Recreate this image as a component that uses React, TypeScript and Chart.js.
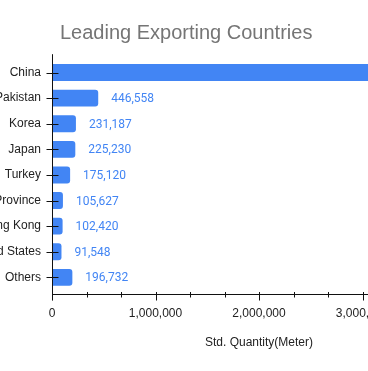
import React, { useEffect, useRef } from "react";
import { Chart, registerables } from "chart.js";

Chart.register(...registerables);

const categories = [
  "China",
  "Pakistan",
  "Korea",
  "Japan",
  "Turkey",
  "Taiwan Province",
  "Hong Kong",
  "United States",
  "Others",
];
const quantities = [3450000, 446558, 231187, 225230, 175120, 105627, 102420, 91548, 196732];
const axisMax = 4000000;
const axisStep = 1000000 / 3;
const chartTitle = "Leading Exporting Countries";
const xAxisTitle = "Std. Quantity(Meter)";

const BLUE = "#4285f4";
const fmt = (v: number) => Math.round(v).toLocaleString("en-US");
const isMajor = (v: number) => Math.abs(v / 1e6 - Math.round(v / 1e6)) < 1e-6;

const axesPlugin = {
  id: "customAxes",
  afterDatasetsDraw(chart: any) {
    const { ctx, chartArea, scales } = chart;
    const x = scales.x;
    const y = scales.y;
    ctx.save();
    ctx.strokeStyle = "#111";
    ctx.lineWidth = 1;
    const lx = Math.round(chartArea.left) + 0.5;
    const axY = Math.round(chartArea.bottom + 4) + 0.5;
    ctx.beginPath();
    // y axis line
    ctx.moveTo(lx, chartArea.top - 5.5);
    ctx.lineTo(lx, chartArea.bottom + 10);
    // x axis line
    ctx.moveTo(chartArea.left, axY);
    ctx.lineTo(chartArea.right, axY);
    // y ticks
    y.ticks.forEach((_t: any, i: number) => {
      const py = Math.round(y.getPixelForTick(i)) + 0.5;
      ctx.moveTo(lx - 6, py);
      ctx.lineTo(lx + 6, py);
    });
    // x ticks
    x.ticks.forEach((t: any) => {
      const px = Math.round(x.getPixelForValue(t.value)) + 0.5;
      ctx.moveTo(px, axY - 2.5);
      ctx.lineTo(px, axY + (isMajor(t.value) ? 6 : 3));
    });
    ctx.stroke();
    ctx.restore();
  },
};

const labelPlugin = {
  id: "barLabels",
  afterDatasetsDraw(chart: any) {
    const { ctx } = chart;
    const meta = chart.getDatasetMeta(0);
    ctx.save();
    ctx.font = "12px Roboto";
    ctx.fillStyle = BLUE;
    ctx.textAlign = "left";
    ctx.textBaseline = "middle";
    meta.data.forEach((bar: any, i: number) => {
      ctx.fillText(fmt(quantities[i]), bar.x + 13, bar.y + 1);
    });
    ctx.restore();
  },
};

function App() {
  const ref = useRef<HTMLCanvasElement | null>(null);
  useEffect(() => {
    if (!ref.current) return;
    const chart = new Chart(ref.current, {
      type: "bar",
      data: {
        labels: categories,
        datasets: [
          {
            data: quantities,
            backgroundColor: BLUE,
            borderRadius: 3,
            borderSkipped: "start",
            categoryPercentage: 1,
            barPercentage: 0.66,
          },
        ],
      },
      options: {
        indexAxis: "y",
        animation: false,
        responsive: false,
        devicePixelRatio: 1,
        layout: { padding: { top: 59.7, right: 44, bottom: 0, left: 0 } },
        plugins: {
          legend: { display: false },
          tooltip: { enabled: false },
          title: { display: false },
        },
        scales: {
          x: {
            type: "linear",
            min: 0,
            max: axisMax,
            border: { display: false },
            grid: {
              display: true,
              drawOnChartArea: false,
              drawTicks: true,
              tickLength: 10,
              color: "rgba(0,0,0,0)",
            },
            ticks: {
              stepSize: axisStep,
              autoSkip: false,
              maxRotation: 0,
              maxTicksLimit: 50,
              padding: 6,
              color: "#222",
              font: { family: "'Liberation Sans', Arial, sans-serif", size: 12 },
              callback: (v: any) => (isMajor(Number(v)) ? fmt(Number(v)) : ""),
            },
            title: {
              display: true,
              text: xAxisTitle,
              color: "#222",
              font: { family: "'Liberation Sans', Arial, sans-serif", size: 12 },
              padding: { top: 15, bottom: 21 },
            },
            afterFit: (scale: any) => {
              scale.height = 80.8;
            },
          },
          y: {
            border: { display: false },
            grid: {
              display: true,
              drawOnChartArea: false,
              drawTicks: true,
              tickLength: 6,
              color: "rgba(0,0,0,0)",
            },
            ticks: {
              autoSkip: false,
              padding: 5,
              color: "#222",
              font: { family: "'Liberation Sans', Arial, sans-serif", size: 12 },
            },
            afterFit: (scale: any) => {
              scale.width = 112;
            },
          },
        },
      },
      plugins: [axesPlugin, labelPlugin],
    } as any);
    return () => chart.destroy();
  }, []);

  return (
    <div
      style={{
        position: "fixed",
        left: 0,
        top: 0,
        width: 368,
        height: 371,
        overflow: "hidden",
        background: "#fff",
      }}
    >
      <div
        style={{
          position: "absolute",
          left: 60,
          top: 21,
          font: "20px 'Liberation Sans', Arial, sans-serif",
          lineHeight: "23px",
          color: "#757575",
          whiteSpace: "nowrap",
          zIndex: 1,
        }}
      >
        {chartTitle}
      </div>
      <canvas
        ref={ref}
        width={570}
        height={371}
        style={{ position: "absolute", left: -60, top: 0, width: 570, height: 371 }}
      />
    </div>
  );
}

export default App;
